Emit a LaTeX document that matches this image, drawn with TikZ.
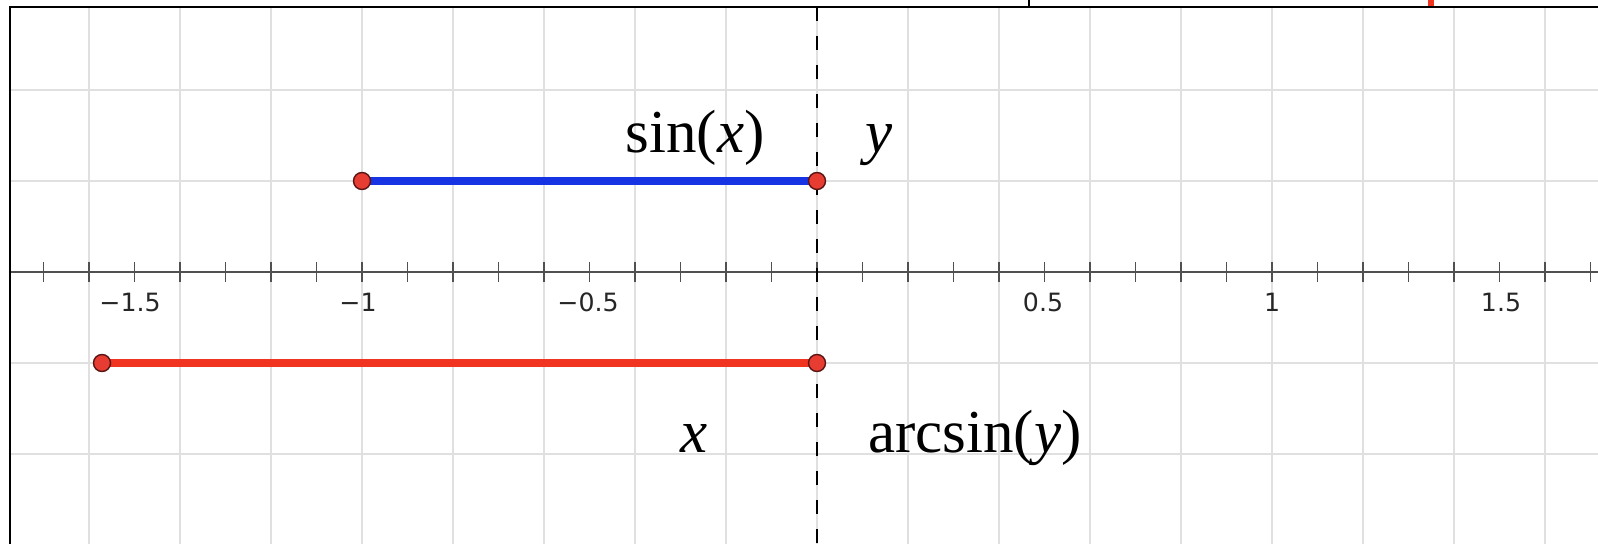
\documentclass[tikz,border=0pt]{standalone}
\usepackage{fontspec}
\setmainfont{Liberation Serif}
\newfontfamily\ticksfont{DejaVu Sans}
\definecolor{gridgray}{RGB}{224,224,224}
\definecolor{axisgray}{RGB}{80,80,80}
\definecolor{segblue}{RGB}{22,52,228}
\definecolor{segred}{RGB}{240,52,32}
\definecolor{ptred}{RGB}{230,60,50}
\definecolor{ptedge}{RGB}{90,20,20}
\tikzset{
  gridline/.style={draw=gridgray, line width=0.75pt},
  axisline/.style={draw=axisgray, line width=1pt},
  tickline/.style={draw=axisgray, line width=0.9pt},
  frameline/.style={draw=black, line width=1.2pt},
  dashline/.style={draw=black, line width=1pt, dash pattern=on 7pt off 7.5pt},
  seg/.style={line width=3.8pt},
  pt/.style={circle, fill=ptred, draw=ptedge, line width=0.7pt, minimum size=8.5pt, inner sep=0pt},
  ticklabel/.style={font=\ticksfont\fontsize{12.6}{14}\selectfont, text=black!85, inner sep=0pt},
  biglabel/.style={font=\fontsize{30.5}{36}\selectfont, anchor=base, inner sep=0pt}
}
\begin{document}
\begin{tikzpicture}[x=0.5pt,y=-0.5pt]
\useasboundingbox (0,0) rectangle (1598,544);
\fill[white] (0,0) rectangle (1598,544);
% grid
\foreach \i in {-8,...,8} {
  \draw[gridline] ({817+91*\i},7) -- ({817+91*\i},544);
}
\foreach \yy in {90,181,272,363,454} {
  \draw[gridline] (10,\yy) -- (1598,\yy);
}
% axis
\draw[axisline] (10,272) -- (1598,272);
\foreach \i in {-17,...,17} {
  \draw[tickline] ({817+45.5*\i},262) -- ({817+45.5*\i},282);
}
% tick labels
\node[ticklabel] (lm15) at (130,302) {−1.5};
\node[ticklabel] (lm1) at (358,302) {−1};
\node[ticklabel] (lm05) at (588,302) {−0.5};
\node[ticklabel] (l05) at (1043,302) {0.5};
\node[ticklabel] (l1) at (1272,302) {1};
\node[ticklabel] (l15) at (1501,302) {1.5};
% frame
\draw[frameline] (10,544) -- (10,7) -- (1598,7);
\draw[draw=black, line width=1pt] (1029,0) -- (1029,7);
\fill[segred] (1428,0) rectangle (1434,6);
% dashed vertical
\coordinate (dtop) at (817,7);
\coordinate (dbot) at (817,544);
\draw[dashline] (dtop) -- (dbot);
% segments
\coordinate (B1) at (362,181);
\coordinate (B2) at (817,181);
\coordinate (R1) at (102,363);
\coordinate (R2) at (817,363);
\draw[seg, segblue] (B1) -- (B2);
\draw[seg, segred] (R1) -- (R2);
\node[pt] (b1) at (B1) {};
\node[pt] (b2) at (B2) {};
\node[pt] (r1) at (R1) {};
\node[pt] (r2) at (R2) {};
% labels
\node[biglabel] (sinx) at (695,153) {sin(\textit{x})};
\node[biglabel] (ylab) at (879,153) {\textit{y}};
\node[biglabel] (xlab) at (694,452) {\textit{x}};
\node[biglabel] (arcsin) at (975,452) {arcsin(\textit{y})};
\end{tikzpicture}
\end{document}
